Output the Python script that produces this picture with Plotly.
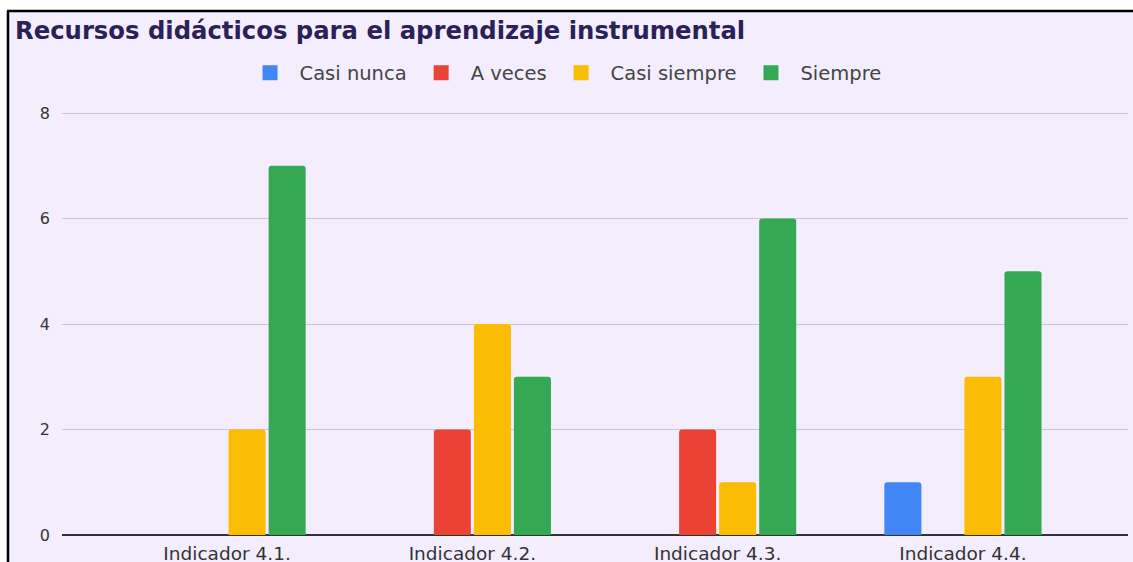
import plotly.graph_objects as go

categories = ["Indicador 4.1.", "Indicador 4.2.", "Indicador 4.3.", "Indicador 4.4."]
series_names = ["Casi nunca", "A veces", "Casi siempre", "Siempre"]
casi_nunca = [0, 0, 0, 1]
a_veces = [0, 2, 2, 0]
casi_siempre = [2, 4, 1, 3]
siempre = [7, 3, 6, 5]
y_ticks = [0, 2, 4, 6, 8]

colors = ["#4285F4", "#EA4335", "#FBBC04", "#34A853"]
values = [casi_nunca, a_veces, casi_siempre, siempre]

W, H = 1133, 562
ml, mr, mt, mb = 62, 5, 111, 27
pw = W - ml - mr
ph = H - mt - mb
FONT = "DejaVu Sans, Liberation Sans, Arial, sans-serif"

fig = go.Figure()
for name, vals, col in zip(series_names, values, colors):
    fig.add_trace(go.Bar(
        x=list(range(len(categories))), y=vals, name=name,
        legendgroup=name, showlegend=False,
        marker=dict(color=col, line=dict(width=0), cornerradius=3),
    ))
# legend entries drawn as square swatches
for name, col in zip(series_names, colors):
    fig.add_trace(go.Scatter(
        x=[None], y=[None], mode="markers", name=name, legendgroup=name,
        marker=dict(symbol="square", size=15, color=col),
    ))

BG = "#F3EDFE"
x0 = (8 - ml) / pw
x1 = 1 + mr / pw
y0 = -mb / ph
y1 = 1 + (mt - 11) / ph
fig.add_shape(type="rect", xref="paper", yref="paper",
              x0=x0, x1=x1, y0=y0, y1=y1,
              fillcolor=BG, line=dict(width=0), layer="below")
fig.add_shape(type="line", xref="paper", yref="paper",
              x0=(7 - ml) / pw, x1=x1, y0=y1, y1=y1,
              line=dict(color="#000000", width=2.5), layer="above")
fig.add_shape(type="line", xref="paper", yref="paper",
              x0=(8 - ml) / pw, x1=(8 - ml) / pw, y0=y0, y1=y1,
              line=dict(color="#000000", width=2.5), layer="above")

fig.update_layout(
    width=W, height=H,
    margin=dict(l=ml, r=mr, t=mt, b=mb, autoexpand=False),
    paper_bgcolor="#FFFFFF",
    plot_bgcolor="rgba(0,0,0,0)",
    barmode="group",
    bargap=0.347,
    bargroupgap=0.075,
    font=dict(family=FONT, color="#444444", size=14),
    title=dict(
        text="<b>Recursos didácticos para el aprendizaje instrumental</b>",
        x=15 / W, xanchor="left", y=1 - 30 / H, yanchor="middle",
        font=dict(size=24.3, color="#2B2157", family=FONT),
    ),
    legend=dict(
        orientation="h", x=0.4705, xanchor="center", y=1 + (mt - 73) / ph, yanchor="middle",
        font=dict(size=19.5, color="#444444", family=FONT),
        bgcolor="rgba(0,0,0,0)", traceorder="normal",
        itemsizing="trace", itemwidth=49,
    ),
    xaxis=dict(
        tickmode="array", tickvals=list(range(len(categories))), ticktext=categories,
        range=[-0.673, 3.673], showgrid=False, zeroline=False,
        showline=False, ticks="", ticklabelstandoff=5, automargin=False,
        tickfont=dict(size=18.5, color="#333333", family=FONT),
        fixedrange=True,
    ),
    yaxis=dict(
        range=[0, 8.038], tickmode="array", tickvals=y_ticks,
        showgrid=True, gridcolor="#CBC4D8", gridwidth=1,
        zeroline=True, zerolinecolor="#333333", zerolinewidth=1.5,
        showline=False, ticks="", ticklabelstandoff=11, automargin=False,
        tickfont=dict(size=16, color="#333333", family=FONT),
    ),
    showlegend=True,
)

fig.write_html(
    "out.html",
    config={"displayModeBar": False},
    post_script="document.body.style.margin='0';document.body.style.overflow='hidden';",
)
